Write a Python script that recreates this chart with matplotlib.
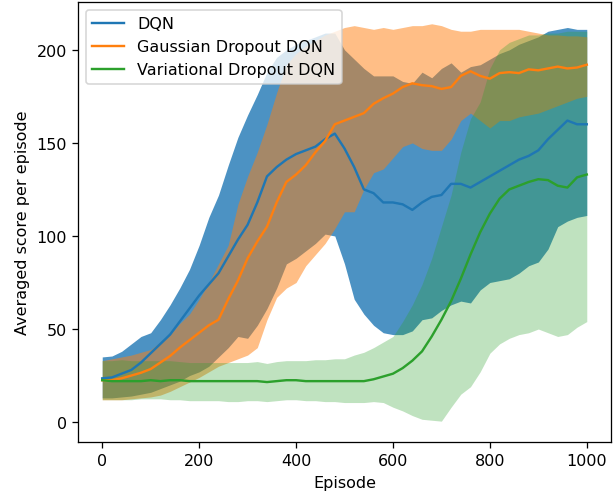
import numpy as np
import matplotlib
matplotlib.use("Agg")
import matplotlib.pyplot as plt

episodes = list(range(0, 1001, 20))

dqn_mean = [23.5, 24, 26, 28, 32, 37, 42, 47, 54, 61, 68, 74, 80, 89, 98, 106, 118, 132, 137, 141,
            144, 146, 148, 152, 155, 147, 137, 125, 123, 118, 118, 117, 114, 118, 121, 122, 128, 128,
            126, 129, 132, 135, 138, 141, 143, 146, 152, 157, 162, 160, 160]
dqn_upper = [35, 35.5, 38, 42, 46, 48, 55, 63, 72, 82, 95, 110, 122, 138, 153, 165, 176, 188, 196, 200,
             203, 205, 207, 209, 209, 200, 195, 190, 186, 186, 186, 183, 182, 188, 185, 190, 193, 188,
             191, 192, 195, 198, 200, 203, 205, 207, 210, 211, 212, 211, 211]
dqn_lower = [13, 13, 13.5, 14, 15, 16, 18, 20, 22, 25, 27, 30, 35, 40, 46, 45, 52, 61, 72, 85,
             88, 92, 96, 101, 100, 85, 66, 58, 52, 48, 47, 47, 49, 55, 56, 60, 63, 65,
             64, 71, 75, 76, 77, 80, 84, 86, 93, 105, 108, 110, 111]

gauss_mean = [22.5, 22.5, 23.5, 25, 26.5, 28.5, 32, 35.5, 40, 44, 48, 52, 55, 66, 76, 88, 97, 105, 118, 129,
              133, 138, 145, 151, 160, 162, 164, 166, 171, 174, 176.5, 180, 182, 181, 180.5, 179, 180, 186,
              188.5, 186, 184.5, 187.5, 188, 187.5, 189.5, 189, 190, 191, 190, 190.5, 192]
gauss_upper = [33, 34, 35, 36, 37.5, 39, 43, 47, 53, 58, 66, 75, 85, 95, 117, 132, 145, 160, 177, 192,
               198, 202, 205, 208, 210, 212, 213, 212, 211, 212, 211, 212, 213, 213, 214, 213, 211, 210,
               210, 211, 211, 211, 211, 211, 210, 209, 208, 208, 207.5, 207.5, 207]
gauss_lower = [12, 12, 12, 12.5, 13, 13.5, 14.5, 16.5, 19, 21.5, 24, 27, 30, 32, 34, 36, 40, 55, 67, 72,
               75, 84, 90, 96, 104, 113, 113, 125, 134, 136, 142, 148, 150, 147, 146, 146, 152, 162,
               166, 162, 158, 162, 162, 164, 165, 166, 168, 170, 172, 174, 175]

var_mean = [22.5, 22, 22, 22, 22, 22.5, 22, 22.5, 22.5, 22, 22, 22, 22, 22, 22, 22, 22, 21.5, 22, 22.5,
            22.5, 22, 22, 22, 22, 22, 22, 22, 23, 24.5, 26, 29, 33, 38, 46, 55, 65, 77,
            90, 102, 112, 120, 125, 127, 129, 130.5, 130, 127, 126, 131.5, 133]
var_upper = [33, 33, 33.5, 33, 33, 33, 33, 33, 32.5, 32, 32, 32, 32, 32, 32, 32, 32.5, 31.5, 32.5, 33,
             33, 33, 33.5, 33.5, 34, 34, 36, 37.5, 40, 43, 46, 54, 63, 74, 88, 105, 122, 145,
             163, 172, 190, 200, 204, 206, 208, 208, 209, 209, 210, 210, 210]
var_lower = [12, 12, 12, 12, 12.5, 12.5, 12.5, 12, 12, 11.5, 11.5, 11.5, 11.5, 11, 11, 11.5, 11.5, 11, 11.5, 12,
             12, 11.5, 11.5, 11, 11, 10.5, 10.5, 10.5, 11, 10.5, 8, 6, 3.5, 1.5, 1, 0.5, 8, 15,
             19, 27, 37, 42, 45, 47, 48, 50, 48, 46, 47, 51, 54]

labels = ["DQN", "Gaussian Dropout DQN", "Variational Dropout DQN"]
colors = ["#1f77b4", "#ff7f0e", "#2ca02c"]
alphas = [0.8, 0.5, 0.3]

DPI = 115
fig = plt.figure(figsize=(613 / DPI, 495 / DPI), dpi=DPI)
ax = fig.add_axes([78 / 613, 1 - 443 / 495, 533 / 613, 440 / 495])

series = [(dqn_mean, dqn_lower, dqn_upper), (gauss_mean, gauss_lower, gauss_upper),
          (var_mean, var_lower, var_upper)]
for (m, lo, hi), lab, c, a in zip(series, labels, colors, alphas):
    ax.plot(episodes, m, color=c, label=lab, linewidth=1.5)
    ax.fill_between(episodes, lo, hi, color=c, alpha=a, linewidth=0)

ax.set_xlim(-50, 1050)
ax.set_ylim(-10.7, 225.7)
ax.set_xticks([0, 200, 400, 600, 800, 1000])
ax.set_yticks([0, 50, 100, 150, 200])
ax.set_xlabel("Episode")
ax.set_ylabel("Averaged score per episode")
ax.legend(loc="upper left")

fig.savefig("out.png", dpi=DPI)
